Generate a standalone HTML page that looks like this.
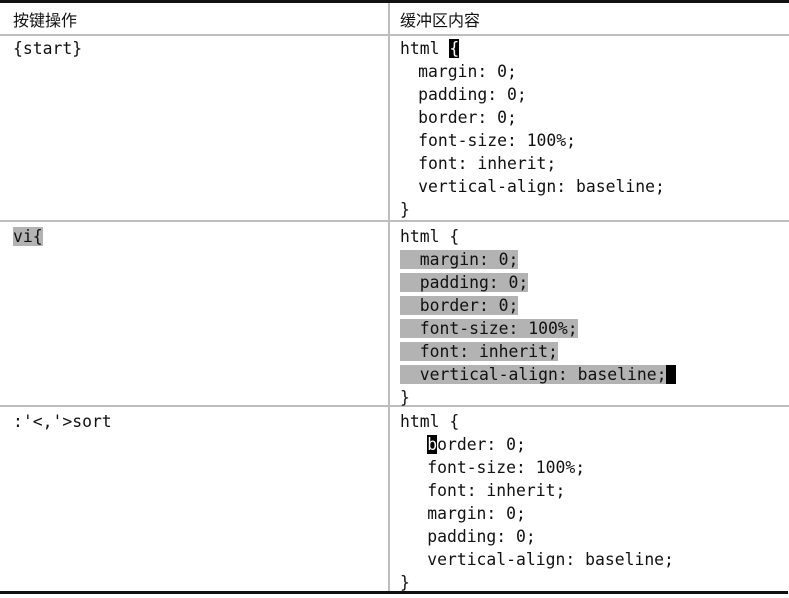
<!DOCTYPE html>
<html><head><meta charset="utf-8"><style>
body{margin:0;width:789px;height:598px;background:#fff;position:relative;overflow:hidden}
.l{position:absolute;background:#bdbdbd}
.m{position:absolute;font-family:"DejaVu Sans Mono","Liberation Mono",monospace;font-size:16.4px;line-height:23px;white-space:pre;color:#111}
.h{position:absolute;font-family:"Liberation Sans","Noto Sans CJK SC",sans-serif;font-size:16px;color:#111}
.g{background:#b3b3b3}
.c{background:#000;color:#fff}
.s{letter-spacing:-0.8px}
</style></head><body>
<div style="position:absolute;left:0;top:0;width:789px;height:3px;background:#111"></div>
<div style="position:absolute;left:0;top:591px;width:788px;height:3px;background:#111"></div>
<div class="l" style="left:0;top:34px;width:789px;height:2px"></div>
<div class="l" style="left:0;top:220px;width:789px;height:2px"></div>
<div class="l" style="left:0;top:405px;width:789px;height:2px"></div>
<div class="l" style="left:388px;top:3px;width:2px;height:588px"></div>
<div class="h" style="left:13px;top:7px">按键操作</div>
<div class="h" style="left:400px;top:7px">缓冲区内容</div>
<div class="m" style="left:13px;top:37px">{start}</div>
<div class="m" style="left:400px;top:37px">html <span class="c">{</span>
<span class="s">  </span>margin: 0;
<span class="s">  </span>padding: 0;
<span class="s">  </span>border: 0;
<span class="s">  </span>font-size: 100%;
<span class="s">  </span>font: inherit;
<span class="s">  </span>vertical-align: baseline;
}</div>
<div class="m" style="left:13px;top:225px"><span class="g">vi{</span></div>
<div class="m" style="left:400px;top:225px">html {
<span class="g">  margin: 0;</span>
<span class="g">  padding: 0;</span>
<span class="g">  border: 0;</span>
<span class="g">  font-size: 100%;</span>
<span class="g">  font: inherit;</span>
<span class="g">  vertical-align: baseline;</span><span class="c"> </span>
}</div>
<div class="m" style="left:13px;top:410px">:'&lt;,'&gt;sort</div>
<div class="m" style="left:400px;top:410px">html {
<span class="s">   </span><span class="c">b</span>order: 0;
<span class="s">   </span>font-size: 100%;
<span class="s">   </span>font: inherit;
<span class="s">   </span>margin: 0;
<span class="s">   </span>padding: 0;
<span class="s">   </span>vertical-align: baseline;
}</div>
</body></html>
